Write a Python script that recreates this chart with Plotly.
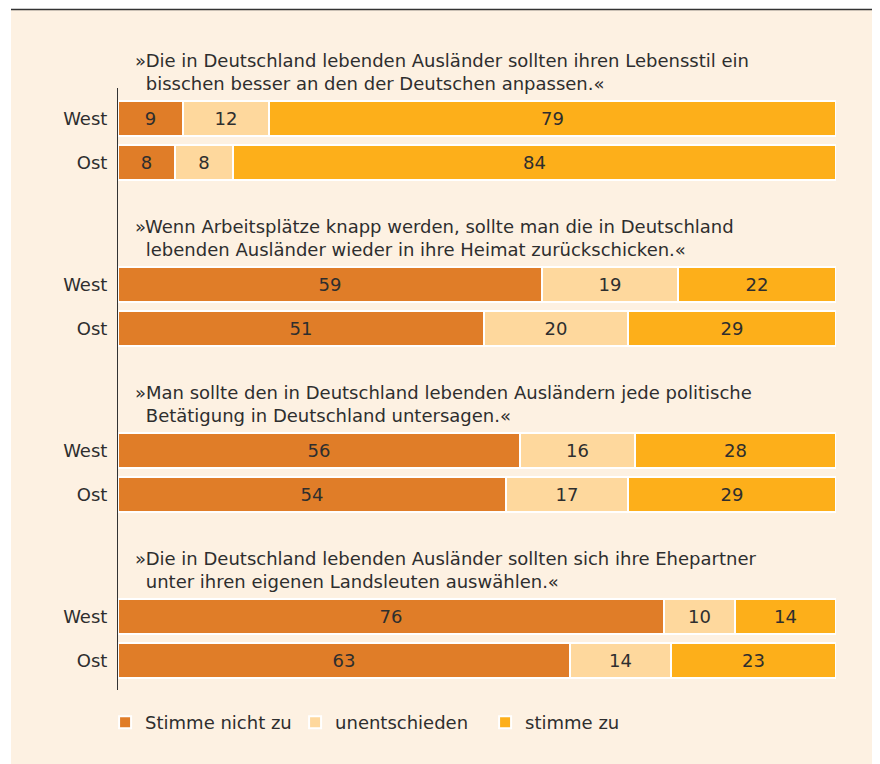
import plotly.graph_objects as go

IND = "\u2002\u200a"
questions = [
    "»Die in Deutschland lebenden Ausländer sollten ihren Lebensstil ein<br>" + IND + "bisschen besser an den der Deutschen anpassen.«",
    "»Wenn Arbeitsplätze knapp werden, sollte man die in Deutschland<br>" + IND + "lebenden Ausländer wieder in ihre Heimat zurückschicken.«",
    "»Man sollte den in Deutschland lebenden Ausländern jede politische<br>" + IND + "Betätigung in Deutschland untersagen.«",
    "»Die in Deutschland lebenden Ausländer sollten sich ihre Ehepartner<br>" + IND + "unter ihren eigenen Landsleuten auswählen.«",
]
regions = ["West", "Ost"]
series_names = ["Stimme nicht zu", "unentschieden", "stimme zu"]
# values per question: [West, Ost]
stimme_nicht_zu = [[9, 8], [59, 51], [56, 54], [76, 63]]
unentschieden = [[12, 8], [19, 20], [16, 17], [10, 14]]
stimme_zu = [[79, 84], [22, 29], [28, 29], [14, 23]]
colors = ["#E07D28", "#FED89D", "#FDAF1A"]

font = "DejaVu Sans"
FS = 18
TXT = "#2e2e2e"

GROUP_STEP = 166 / 44.0
ypos, ylab = [], []
for g in range(len(questions)):
    for r, reg in enumerate(regions):
        ypos.append(g * GROUP_STEP + r)
        ylab.append(reg)

fig = go.Figure()
for name, data, col in zip(series_names, [stimme_nicht_zu, unentschieden, stimme_zu], colors):
    vals = [v for pair in data for v in pair]
    fig.add_trace(go.Bar(
        x=vals, y=ypos, orientation="h", name=name,
        marker=dict(color=col, line=dict(color="white", width=2)),
        width=0.8,
        text=[str(v) for v in vals], textposition="inside",
        insidetextanchor="middle", textangle=0, constraintext="none",
        textfont=dict(size=FS, color=TXT, family=font),
        cliponaxis=False,
    ))

# page body adds an 8px offset; work in figure coords = window coords - 8
OFF = 8
W, H = 880, 764
L = 118 - OFF
T = 88 - OFF
R = W - (836 - OFF)
B = H - (690 - OFF)
pw = W - L - R
ph = H - T - B

for g, q in enumerate(questions):
    fig.add_annotation(
        x=(133 - 118) / pw, xref="paper", xanchor="left", y=g * GROUP_STEP - 0.52, yref="y", yanchor="bottom",
        text=q, showarrow=False, align="left",
        font=dict(size=FS, color=TXT, family=font),
    )

# cream background panel
fig.add_shape(type="rect", xref="paper", yref="paper",
              x0=(11 - 118) / pw, x1=(W - L) / pw, y0=-(B) / ph, y1=(690 - 10) / ph,
              fillcolor="#FDF1E2", line=dict(width=0), layer="below")
fig.add_shape(type="line", xref="paper", yref="paper",
              x0=(11 - 118) / pw, x1=(W - L) / pw, y0=(690 - 9.5) / ph, y1=(690 - 9.5) / ph,
              line=dict(color="#333333", width=1.5))

fig.update_layout(
    width=W, height=H, barmode="stack",
    margin=dict(l=L, r=R, t=T, b=B),
    paper_bgcolor="white", plot_bgcolor="rgba(0,0,0,0)",
    font=dict(family=font, size=FS, color=TXT),
    bargap=0,
    showlegend=True,
    legend=dict(orientation="h", x=-0.018, xanchor="left", y=-0.0234, yanchor="top",
                traceorder="normal", entrywidth=145, entrywidthmode="pixels",
                font=dict(size=FS, color=TXT, family=font), bgcolor="rgba(0,0,0,0)"),
    xaxis=dict(range=[0, 100], showgrid=False, zeroline=False, showticklabels=False,
               ticks="", fixedrange=True),
    yaxis=dict(range=[(602 - 30.5) / 44.0, -30.5 / 44.0], tickvals=ypos, ticktext=ylab,
               showgrid=False, zeroline=False, showline=True, linecolor="#333333",
               linewidth=1, ticks="", ticklabelstandoff=6,
               tickfont=dict(size=FS, color=TXT, family=font)),
)
fig.write_html("out.html")
